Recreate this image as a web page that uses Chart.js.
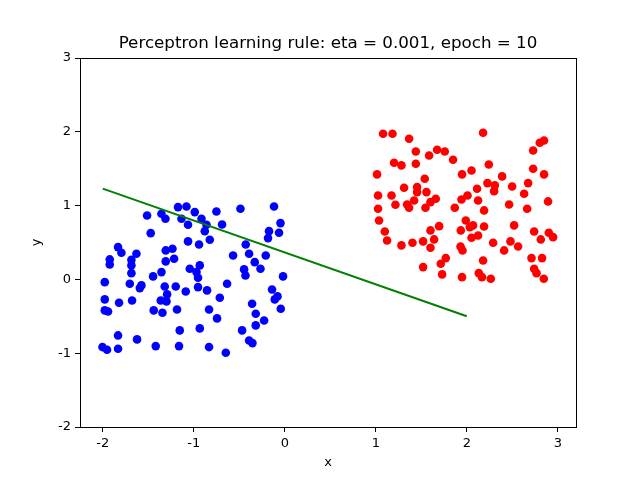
<!DOCTYPE html>
<html><head><meta charset="utf-8">
<script src="https://cdn.jsdelivr.net/npm/chart.js@4"></script>
<style>html,body{margin:0;padding:0;background:#fff}#c{display:block}</style>
</head><body>
<canvas id="c" width="640" height="480"></canvas>
<script>
const blueX=[-1.173,-1.080,-1.513,-1.355,-1.311,-1.135,-1.063,-1.473,-1.063,-1.832,-1.795,-1.630,-1.308,-1.234,-1.923,-1.685,-1.216,-1.308,-1.923,-1.685,-1.044,-1.355,-1.685,-1.447,-1.978,-1.703,-1.575,-1.593,-1.319,-1.198,-1.088,-1.293,-1.978,-1.821,-1.678,-1.363,-1.300,-1.978,-1.942,-1.440,-1.344,-1.184,-1.154,-1.832,-1.623,-2.003,-1.953,-1.832,-1.418,-1.162,-0.989,-0.751,-0.487,-0.118,-0.915,-0.860,-0.689,-0.879,-0.047,-0.173,-0.063,-0.184,-0.942,-0.824,-0.429,-0.568,-0.392,-0.209,-0.330,-0.267,-0.447,-0.432,-0.934,-0.970,-0.953,-0.019,-0.634,-0.953,-0.854,-0.140,-0.714,-0.080,-0.110,-0.359,-0.044,-0.832,-0.319,-0.744,-0.227,-0.319,-0.934,-0.469,-0.392,-0.355,-0.832,-0.648];
const blueY=[0.980,0.989,0.867,0.890,0.822,0.822,0.741,0.627,0.515,0.438,0.362,0.348,0.393,0.416,0.271,0.267,0.280,0.244,0.203,0.190,0.145,0.099,0.085,0.041,-0.037,-0.058,-0.081,-0.118,-0.095,-0.095,-0.163,-0.203,-0.271,-0.316,-0.285,-0.285,-0.298,-0.420,-0.434,-0.420,-0.451,-0.407,-0.691,-0.759,-0.813,-0.917,-0.953,-0.939,-0.904,-0.904,0.912,0.921,0.958,0.989,0.822,0.741,0.745,0.654,0.763,0.654,0.633,0.560,0.474,0.538,0.474,0.325,0.348,0.325,0.234,0.145,0.136,0.054,0.190,0.099,0.023,0.041,-0.058,-0.104,-0.149,-0.136,-0.248,-0.230,-0.271,-0.329,-0.397,-0.407,-0.465,-0.528,-0.556,-0.623,-0.664,-0.691,-0.827,-0.863,-0.917,-0.993];
const redX=[1.080,1.184,1.366,1.440,1.586,1.674,1.758,1.849,1.201,1.282,1.440,1.014,1.948,2.052,1.538,1.311,1.454,1.454,1.557,1.025,1.173,1.216,1.344,1.366,1.421,1.546,1.601,1.659,1.942,2.008,1.868,1.025,1.036,1.099,1.124,1.282,1.403,1.520,1.601,1.696,1.641,1.601,1.934,1.989,2.033,2.052,1.931,1.953,1.769,1.714,1.520,1.729,1.948,2.179,2.802,2.849,2.729,2.242,2.388,2.729,2.849,2.227,2.308,2.300,2.113,2.498,2.674,2.630,2.124,2.465,2.893,2.190,2.663,2.069,2.190,2.520,2.124,2.289,2.480,2.564,2.410,2.740,2.813,2.901,2.948,2.179,2.711,2.827,2.740,2.766,2.846,2.132,2.167,2.264];
const redY=[1.974,1.974,1.907,1.734,1.680,1.757,1.734,1.622,1.581,1.545,1.568,1.423,1.423,1.477,1.364,1.243,1.251,1.183,1.183,1.138,1.138,1.012,1.016,0.972,1.070,0.972,1.047,1.093,1.084,1.138,0.972,0.958,0.799,0.650,0.528,0.461,0.497,0.515,0.664,0.722,0.542,0.430,0.664,0.799,0.709,0.565,0.447,0.393,0.289,0.213,0.167,0.068,0.031,1.988,1.852,1.883,1.748,1.558,1.396,1.500,1.423,1.305,1.274,1.196,1.229,1.260,1.305,1.161,1.070,1.016,1.057,0.935,0.958,0.732,0.718,0.732,0.596,0.497,0.515,0.447,0.393,0.650,0.542,0.633,0.573,0.257,0.289,0.289,0.145,0.085,0.009,0.085,0.031,0.009];
const lineX=[-2,2];
const lineY=[1.23,-0.50];
const xTicks=[-2,-1,0,1,2,3];
const yTicks=[-2,-1,0,1,2,3];
const titleText='Perceptron learning rule: eta = 0.001, epoch = 10';

const toPts=(xs,ys)=>xs.map((x,i)=>({x:x,y:ys[i]}));
const FONT='DejaVu Sans';

const frame={id:'frame',afterDraw(ch){const a=ch.chartArea,c=ch.ctx;c.save();c.strokeStyle='#000';c.lineWidth=1;c.strokeRect(Math.round(a.left)+0.5,Math.round(a.top)+0.5,Math.round(a.right-a.left),Math.round(a.bottom-a.top));c.restore();}};

new Chart(document.getElementById('c'),{
  type:'scatter',
  data:{datasets:[
    {label:'class -1',data:toPts(blueX,blueY),backgroundColor:'#0000ff',borderColor:'#0000ff',pointRadius:4.3,pointHoverRadius:4.3,borderWidth:0,order:2},
    {label:'class 1',data:toPts(redX,redY),backgroundColor:'#ff0000',borderColor:'#ff0000',pointRadius:4.3,pointHoverRadius:4.3,borderWidth:0,order:2},
    {label:'boundary',type:'line',data:toPts(lineX,lineY),borderColor:'#008000',backgroundColor:'#008000',borderWidth:2,pointRadius:0,showLine:true,fill:false,order:1}
  ]},
  options:{
    responsive:false,animation:false,devicePixelRatio:1,
    layout:{padding:{left:16,right:0,top:0,bottom:0}},
    plugins:{
      legend:{display:false},tooltip:{enabled:false},
      title:{display:true,text:titleText,color:'#000',font:{family:FONT,size:16.7,weight:'normal'},padding:{top:34,bottom:4}}
    },
    scales:{
      x:{type:'linear',min:-2.25,max:3.2,
        afterBuildTicks:s=>{s.ticks=xTicks.map(v=>({value:v}));},
        afterFit:s=>{s.height=53;},
        grid:{display:true,drawOnChartArea:false,drawTicks:true,tickLength:5,color:'#000'},
        border:{display:true,color:'#000'},
        ticks:{color:'#000',font:{family:FONT,size:13},padding:4,maxRotation:0},
        title:{display:true,text:'x',color:'#000',font:{family:FONT,size:13},padding:{top:2,bottom:10}}
      },
      y:{type:'linear',min:-2,max:3,
        afterBuildTicks:s=>{s.ticks=yTicks.map(v=>({value:v}));},
        afterFit:s=>{s.width=64;},
        grid:{display:true,drawOnChartArea:false,drawTicks:true,tickLength:5,color:'#000'},
        border:{display:true,color:'#000'},
        ticks:{color:'#000',font:{family:FONT,size:13},padding:4},
        title:{display:true,text:'y',color:'#000',font:{family:FONT,size:13},padding:{top:13,bottom:0}}
      },
      yR:{type:'linear',position:'right',min:-2,max:3,display:true,
        afterFit:s=>{s.width=64;},
        grid:{display:false},border:{display:false},ticks:{display:false},title:{display:false}
      }
    }
  },
  plugins:[frame]
});
</script>
</body></html>
